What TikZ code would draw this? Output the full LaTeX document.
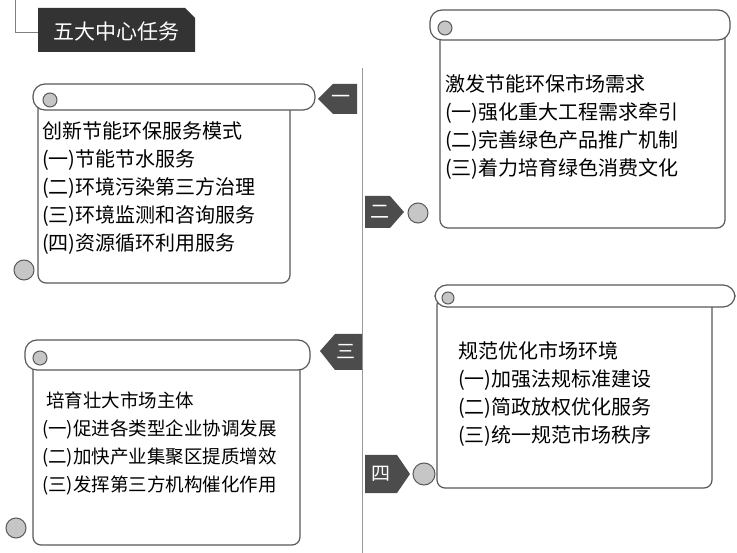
\documentclass[tikz,border=0pt]{standalone}
\usepackage{fontspec}
\setmainfont{Noto Sans CJK SC}
\usetikzlibrary{shapes.geometric, calc, positioning}

\begin{document}
\begin{tikzpicture}[
    x=1pt, y=-1pt,
    roll/.style={draw=gray!70!black, line width=1.2pt, fill=white, rounded corners=12pt},
    body/.style={draw=gray!70!black, line width=1.2pt, fill=white, rounded corners=8pt},
    curl/.style={draw=gray!70!black, line width=1pt, fill=gray!45},
    tagtext/.style={text=white, font=\fontsize{19}{19}\selectfont},
    txt/.style={anchor=north west, align=left, font=\fontsize{20}{28}\selectfont, inner sep=0pt}
]
\useasboundingbox (0,0) rectangle (737,553);
\fill[white] (0,0) rectangle (737,553);

% title
\fill[black!80] (38,8) -- (185,8) -- (195,18) -- (195,52) -- (38,52) -- cycle;
\node[text=white, font=\fontsize{21}{21}\selectfont] (title) at (116,32) {五大中心任务};
\coordinate (corner) at (15,0);
\draw[gray] (corner) |- (38,32);
\coordinate (axtop) at (362,68);
\coordinate (axbot) at (362,553);
\draw[gray!80, line width=1pt] (axtop) -- (axbot);

% scroll one
\draw[body] (38,100) rectangle (290,283);
\draw[roll] (33,84) rectangle (315,110);
\draw[curl] (50,100) circle (7);
\draw[curl] (24,270) circle (10);
\node[txt] (one) at (42,121) {创新节能环保服务模式\\(一)节能节水服务\\(二)环境污染第三方治理\\(三)环境监测和咨询服务\\(四)资源循环利用服务};
\fill[gray!60!black] (318,99) -- (333,84) -- (357,84) -- (357,114) -- (333,114) -- cycle;
\node[tagtext] (tagone) at (341,99) {一};

% scroll two
\draw[body] (440,30) rectangle (725,228);
\draw[roll] (430,10) rectangle (730,40);
\draw[curl] (445,28) circle (7);
\draw[curl] (418,213) circle (10);
\node[txt] (two) at (445,74) {激发节能环保市场需求\\(一)强化重大工程需求牵引\\(二)完善绿色产品推广机制\\(三)着力培育绿色消费文化};
\fill[gray!60!black] (365,196) -- (390,196) -- (404,212) -- (390,228) -- (365,228) -- cycle;
\node[tagtext] (tagtwo) at (380,212) {二};

% scroll three
\draw[body] (33,360) rectangle (300,545);
\draw[roll] (25,340) rectangle (310,370);
\draw[curl] (40,358) circle (7);
\draw[curl] (16,528) circle (10);
\node[txt, font=\fontsize{18.5}{28}\selectfont] (three) at (42,392) {\ 培育壮大市场主体\\(一)促进各类型企业协调发展\\(二)加快产业集聚区提质增效\\(三)发挥第三方机构催化作用};
\fill[gray!60!black] (320,351) -- (335,334) -- (362,334) -- (362,370) -- (335,370) -- cycle;
\node[tagtext] (tagthree) at (346,352) {三};

% scroll four
\draw[body] (437,297) rectangle (712,488);
\draw[roll] (435,285) rectangle (735,307);
\draw[curl] (448,298) circle (6);
\draw[curl] (424,474) circle (11);
\node[txt] (four) at (458,341) {规范优化市场环境\\(一)加强法规标准建设\\(二)简政放权优化服务\\(三)统一规范市场秩序};
\fill[gray!60!black] (365,455) -- (397,455) -- (410,474) -- (397,493) -- (365,493) -- cycle;
\node[tagtext] (tagfour) at (381,474) {四};
\end{tikzpicture}
\end{document}
